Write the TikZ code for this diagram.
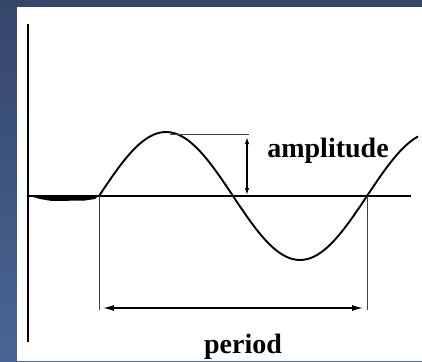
\documentclass[tikz,border=0pt]{standalone}
\usepackage{fontspec}
\setmainfont{Liberation Serif}
\usetikzlibrary{arrows.meta,positioning,calc}
\definecolor{BgTop}{HTML}{34466A}
\definecolor{BgBot}{HTML}{4A6595}

\begin{document}
\begin{tikzpicture}[x=1pt,y=-1pt,
    axis/.style={line width=2.2pt},
    wave/.style={line width=1.9pt, line join=round},
    guide/.style={line width=0.6pt, black!75},
    dimarrow/.style={line width=1.3pt,
      {Latex[length=11pt,width=6pt]}-{Latex[length=11pt,width=6pt]}},
    lbl/.style={font=\fontsize{28}{30}\selectfont\bfseries,
      inner sep=0pt, anchor=base}]
  \useasboundingbox (0,0) rectangle (422,361);
  % slide background
  \shade[top color=BgTop, bottom color=BgBot] (0,0) rectangle (422,361);
  \fill[white] (17,7) rectangle (422,361);

  % axes
  \coordinate (yTop) at (28,24);
  \coordinate (yBot) at (28,342);
  \coordinate (xL) at (28,196);
  \coordinate (xR) at (411,196);
  \draw[axis] (yTop) -- (yBot);
  \draw[axis] (xL) -- (xR);
  \fill (30,196) -- (98,196) -- (95,199) -- (85,200.5)
    -- (52,201) -- (40,199) -- cycle;

  % sine wave
  \draw[wave] plot[domain=99:418, samples=90]
    (\x, {196-64*sin(1.3433*(\x-99))});

  % amplitude
  \coordinate (peak) at (170,134);
  \coordinate (ampEnd) at (249,134);
  \coordinate (ampTop) at (247,137);
  \coordinate (ampBot) at (247,195);
  \draw[guide] (peak) -- (ampEnd);
  \draw[dimarrow, {Latex[length=7pt,width=4.5pt]}-{Latex[length=7pt,width=4.5pt]}]
    (ampTop) -- (ampBot);
  \node[lbl] (amp) at (328,157) {amplitude};

  % period
  \coordinate (pL) at (99,196);
  \coordinate (pR) at (367,196);
  \coordinate (pLd) at (99,310);
  \coordinate (pRd) at (367,310);
  \draw[guide] (pL) -- (pLd);
  \draw[guide] (pR) -- (pRd);
  \draw[dimarrow] ($(pLd)+(4,-2)$) -- ($(pRd)+(-4,-2)$);
  \node[lbl] (per) at (243,353) {period};
\end{tikzpicture}
\end{document}
